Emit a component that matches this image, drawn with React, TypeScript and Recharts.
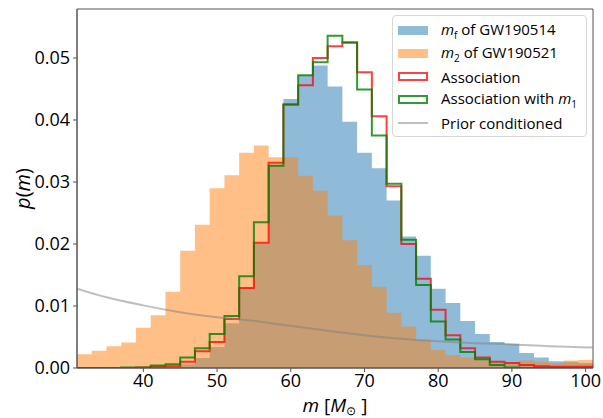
import { Area, ComposedChart, Line, ReferenceArea, XAxis, YAxis } from "recharts"

// left edges of the 2 M_sun bins, last bin ends at 101
const binEdges = [31, 33, 35, 37, 39, 41, 43, 45, 47, 49, 51, 53, 55, 57, 59, 61, 63, 65, 67, 69, 71, 73, 75, 77, 79, 81, 83, 85, 87, 89, 91, 93, 95, 97, 99]
const xMax = 101

const mfGW190514 = [0, 0, 0, 0, 0, 0, 0.0001, 0.0006, 0.0016, 0.0034, 0.0072, 0.013, 0.0201, 0.0328, 0.0434, 0.0472, 0.0488, 0.0454, 0.0397, 0.0347, 0.0322, 0.027, 0.0212, 0.0181, 0.0128, 0.0105, 0.0076, 0.0055, 0.0042, 0.0039, 0.0024, 0.0017, 0.0011, 0.001, 0.0008]
const m2GW190521 = [0.0022, 0.0028, 0.0035, 0.0041, 0.0065, 0.0085, 0.0123, 0.0189, 0.0231, 0.029, 0.0311, 0.0347, 0.0359, 0.034, 0.034, 0.031, 0.0286, 0.0246, 0.0206, 0.0166, 0.0131, 0.0089, 0.0067, 0.0045, 0.0029, 0.0021, 0.0017, 0.0013, 0.0009, 0.0008, 0.0012, 0.001, 0.0008, 0.0012, 0.0013]
const association = [0, 0, 0, 0, 0.0001, 0.0002, 0.0003, 0.001, 0.0027, 0.0042, 0.0079, 0.0129, 0.0202, 0.0331, 0.0425, 0.0456, 0.05, 0.0519, 0.0525, 0.0477, 0.0406, 0.0293, 0.02, 0.0144, 0.0094, 0.0053, 0.0032, 0.0017, 0.001, 0.0008, 0.0005, 0.0003, 0.0002, 0.0002, 0.0002]
const associationM1 = [0, 0, 0, 0.0001, 0.0001, 0.0004, 0.0006, 0.0017, 0.0032, 0.0055, 0.0084, 0.0148, 0.0235, 0.0326, 0.0425, 0.0472, 0.0493, 0.0536, 0.0525, 0.0449, 0.0375, 0.0297, 0.0207, 0.0134, 0.0075, 0.0046, 0.0026, 0.0014, 0.0005, 0.0001, 0, 0, 0, 0, 0]

const priorMass = [31, 35, 40, 45, 50, 55, 60, 65, 70, 75, 80, 85, 90, 95, 101]
const priorDensity = [0.0128, 0.0114, 0.0101, 0.009, 0.0082, 0.0076, 0.0068, 0.006, 0.0053, 0.0047, 0.0043, 0.004, 0.0038, 0.0035, 0.0033]

const xTicks = [40, 50, 60, 70, 80, 90, 100]
const yTicks = [0, 0.01, 0.02, 0.03, 0.04, 0.05]
const yMax = 0.0579

const last = binEdges.length - 1
const histRows = [
  ...binEdges.map((x, i) => ({ x, mf: mfGW190514[i], m2: m2GW190521[i], assoc: association[i], assocM1: associationM1[i] })),
  { x: xMax, mf: mfGW190514[last], m2: m2GW190521[last], assoc: association[last], assocM1: associationM1[last] },
]
const priorRows = priorMass.map((x, i) => ({ x, prior: priorDensity[i] }))

const font = "'Open Sans', sans-serif"

const YLabel = ({ viewBox }: any) => {
  const cx = 22
  const cy = viewBox.y + viewBox.height / 2
  return (
    <text x={cx} y={cy} transform={`rotate(-90 ${cx} ${cy})`} textAnchor="middle" dominantBaseline="central" fontSize={20} fontFamily={font} fill="#000">
      <tspan fontStyle="italic">p</tspan>(<tspan fontStyle="italic">m</tspan>)
    </text>
  )
}

const XLabel = ({ viewBox }: any) => {
  const cx = viewBox.x + viewBox.width / 2
  return (
    <text x={cx} y={412} textAnchor="middle" fontSize={19} fontFamily={font} fill="#000">
      <tspan fontStyle="italic">m</tspan> [<tspan fontStyle="italic">M</tspan>
      <tspan fontSize={12} dy={3}>⊙</tspan>
      <tspan dy={-3}> ]</tspan>
    </text>
  )
}

function LegendBox() {
  const row = { display: "flex", alignItems: "center", height: 23 } as const
  const swatch = { width: 30, height: 9, marginRight: 13, boxSizing: "border-box" } as const
  return (
    <div
      style={{
        position: "absolute",
        left: 392,
        top: 15,
        width: 195,
        padding: "3px 0 2px 5px",
        boxSizing: "border-box",
        border: "1px solid #d6d6d6",
        borderRadius: 4,
        background: "rgba(255,255,255,0.8)",
        fontFamily: font,
        fontSize: 15,
        color: "#000",
      }}
    >
      <div style={row}>
        <span style={{ ...swatch, background: "#8fbbd9" }} />
        <span><i>m</i><sub style={{ fontSize: 10 }}>f</sub> of GW190514</span>
      </div>
      <div style={row}>
        <span style={{ ...swatch, background: "#ffbf86" }} />
        <span><i>m</i><sub style={{ fontSize: 10 }}>2</sub> of GW190521</span>
      </div>
      <div style={row}>
        <span style={{ ...swatch, border: "2px solid rgba(255,0,0,0.75)" }} />
        <span>Association</span>
      </div>
      <div style={row}>
        <span style={{ ...swatch, border: "2px solid rgba(0,128,0,0.8)" }} />
        <span>Association with <i>m</i><sub style={{ fontSize: 10 }}>1</sub></span>
      </div>
      <div style={row}>
        <span style={{ ...swatch, height: 2, background: "rgba(128,128,128,0.5)" }} />
        <span>Prior conditioned</span>
      </div>
    </div>
  )
}

export default function App() {
  const tick = { fontSize: 18, fontFamily: font, fill: "#000" }
  return (
    <div style={{ position: "absolute", left: 0, top: 0, width: 603, height: 418, background: "#fff" }}>
      <ComposedChart width={603} height={418} data={histRows} margin={{ top: 9, right: 10, left: 0, bottom: 0 }}>
        <XAxis
          dataKey="x"
          type="number"
          domain={[31, xMax]}
          ticks={xTicks}
          allowDataOverflow
          height={50}
          tick={tick}
          tickSize={4}
          tickMargin={2}
          stroke="#555"
          label={<XLabel />}
        />
        <YAxis
          type="number"
          domain={[0, yMax]}
          ticks={yTicks}
          allowDataOverflow
          width={77}
          tick={tick}
          tickSize={4}
          tickMargin={3}
          stroke="#555"
          tickFormatter={(v: number) => v.toFixed(2)}
          label={<YLabel />}
        />
        <Area type="stepAfter" dataKey="mf" stroke="none" fill="#1f77b4" fillOpacity={0.5} isAnimationActive={false} />
        <Area type="stepAfter" dataKey="m2" stroke="none" fill="#ff7f0e" fillOpacity={0.5} isAnimationActive={false} />
        <Line type="stepAfter" dataKey="assoc" stroke="#ff0000" strokeOpacity={0.75} strokeWidth={2} dot={false} isAnimationActive={false} />
        <Line type="stepAfter" dataKey="assocM1" stroke="#008000" strokeOpacity={0.8} strokeWidth={2} dot={false} isAnimationActive={false} />
        <Line data={priorRows} type="monotone" dataKey="prior" stroke="#808080" strokeOpacity={0.5} strokeWidth={2} dot={false} isAnimationActive={false} />
        <ReferenceArea x1={31} x2={xMax} y1={0} y2={yMax} fill="none" stroke="#555" strokeWidth={1} />
      </ComposedChart>
      <LegendBox />
    </div>
  )
}
